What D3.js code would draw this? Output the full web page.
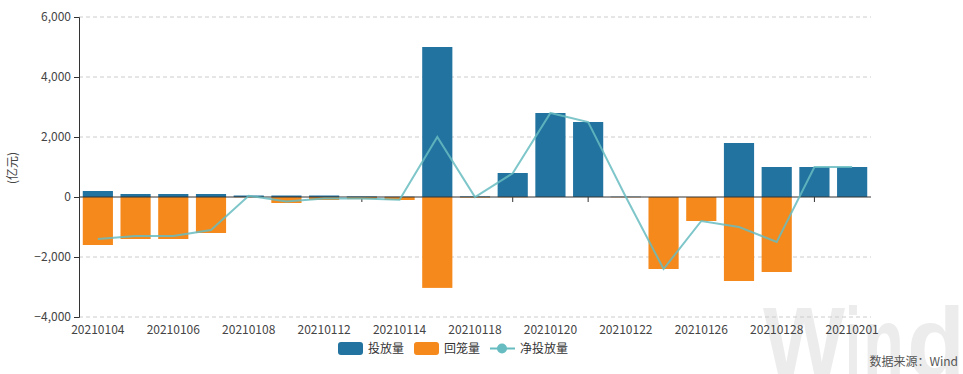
<!DOCTYPE html>
<html><head><meta charset="utf-8">
<script src="https://cdn.jsdelivr.net/npm/d3@7"></script>
<style>
html,body{margin:0;padding:0;background:#fff;}
svg{display:block;font-family:"Noto Sans CJK SC","Noto Sans",sans-serif;}
</style></head>
<body>
<svg id="c" width="963" height="374"></svg>
<script>
const categories = ["20210104","20210105","20210106","20210107","20210108","20210111","20210112","20210113","20210114","20210115","20210118","20210119","20210120","20210121","20210122","20210125","20210126","20210127","20210128","20210129","20210201"];
const injection = [200,100,100,100,50,50,50,20,10,5000,20,800,2800,2500,10,0,0,1800,1000,1000,1000];
const withdrawal = [-1600,-1400,-1400,-1200,-10,-200,-100,-70,-100,-3030,-20,-10,0,0,-10,-2400,-800,-2800,-2500,0,0];
const netInjection = [-1400,-1300,-1300,-1100,40,-150,-50,-50,-90,2000,0,790,2800,2500,0,-2400,-800,-1000,-1500,1000,1000];
const yTicks = [-4000,-2000,0,2000,4000,6000];
const seriesNames = ["投放量","回笼量","净投放量"];
const unitLabel = "(亿元)";
const sourceLabel = "数据来源：Wind";
const watermarkLetters = ["W","i","n","d"];

const colors = {blue:"#22739f", orange:"#f5891c", line:"#67bcc1"};
const svg = d3.select("#c");
const L = 79, R = 871, T = 17, B = 317;

const x = d3.scaleBand().domain(categories).range([L, R]).paddingInner(0.2).paddingOuter(0.1);
const y = d3.scaleLinear().domain([-4000, 6000]).range([B, T]);
const cx = d => x(d) + x.bandwidth()/2;

// watermark (letter-by-letter layout)
const wmPos = [[763, 82], [845, 16], [863, 41], [907, 58]];
svg.append("g").selectAll("text").data(watermarkLetters).join("text")
  .attr("x", (d,i) => wmPos[i][0]).attr("y", 376)
  .attr("textLength", (d,i) => wmPos[i][1]).attr("lengthAdjust", "spacingAndGlyphs")
  .attr("font-family","Liberation Sans, Arial, sans-serif").attr("font-weight","bold")
  .attr("font-size", 98).attr("fill","#ececec").text(d => d);

// grid
svg.append("g").selectAll("line").data(yTicks.filter(v => v !== 0)).join("line")
  .attr("x1", L).attr("x2", R).attr("y1", d => y(d)).attr("y2", d => y(d))
  .attr("stroke", "#cccccc").attr("stroke-dasharray", "4,3").attr("stroke-width", 1);

// x ticks (odd indices)
svg.append("g").selectAll("line").data(categories.filter((d,i) => i % 2 === 1)).join("line")
  .attr("x1", d => cx(d)).attr("x2", d => cx(d)).attr("y1", y(0)).attr("y2", y(0) + 5)
  .attr("stroke", "#333").attr("stroke-width", 1);

// bars
svg.append("g").selectAll("rect").data(categories).join("rect")
  .attr("x", d => x(d)).attr("width", x.bandwidth())
  .attr("y", (d,i) => y(Math.max(0, injection[i])))
  .attr("height", (d,i) => Math.abs(y(injection[i]) - y(0)))
  .attr("fill", colors.blue);
svg.append("g").selectAll("rect").data(categories).join("rect")
  .attr("x", d => x(d)).attr("width", x.bandwidth())
  .attr("y", (d,i) => y(Math.max(0, withdrawal[i])))
  .attr("height", (d,i) => Math.abs(y(withdrawal[i]) - y(0)))
  .attr("fill", colors.orange);

// axes
const yAxis = d3.axisLeft(y).tickValues(yTicks).tickSize(5).tickPadding(3).tickFormat(d3.format(","));
const gy = svg.append("g").attr("transform", `translate(${L},0)`).call(yAxis);
gy.select(".domain").attr("stroke", "#333");
gy.selectAll(".tick line").attr("stroke", "#333");
gy.selectAll("text").attr("font-size", 12).attr("fill", "#444")
  .attr("font-family","\"Noto Sans CJK SC\",sans-serif");

svg.append("line").attr("x1", L).attr("x2", R).attr("y1", y(0)).attr("y2", y(0))
  .attr("stroke", "#333").attr("stroke-width", 1);

// x labels
svg.append("g").selectAll("text").data(categories.filter((d,i) => i % 2 === 0)).join("text")
  .attr("x", d => cx(d)).attr("y", 334).attr("text-anchor", "middle")
  .attr("font-size", 12).attr("fill", "#444").text(d => d);

// line
svg.append("path").datum(netInjection)
  .attr("d", d3.line().x((d,i) => cx(categories[i])).y(d => y(d)))
  .attr("fill", "none").attr("stroke", colors.line).attr("stroke-width", 2).attr("stroke-opacity", 0.85);

// unit label
svg.append("text").attr("transform", "translate(17,168) rotate(-90)").attr("text-anchor", "middle")
  .attr("font-size", 12).attr("fill", "#444").text(unitLabel);

// legend
const lg = svg.append("g");
lg.append("rect").attr("x", 338).attr("y", 342).attr("width", 25).attr("height", 13).attr("rx", 3).attr("fill", colors.blue);
lg.append("text").attr("x", 368).attr("y", 353).attr("font-size", 12).attr("fill", "#333").text(seriesNames[0]);
lg.append("rect").attr("x", 414).attr("y", 342).attr("width", 25).attr("height", 13).attr("rx", 3).attr("fill", colors.orange);
lg.append("text").attr("x", 444).attr("y", 353).attr("font-size", 12).attr("fill", "#333").text(seriesNames[1]);
lg.append("line").attr("x1", 490).attr("x2", 515).attr("y1", 348.5).attr("y2", 348.5).attr("stroke", colors.line).attr("stroke-width", 2);
lg.append("circle").attr("cx", 502).attr("cy", 348.5).attr("r", 5).attr("fill", colors.line);
lg.append("text").attr("x", 520).attr("y", 353).attr("font-size", 12).attr("fill", "#333").text(seriesNames[2]);

// source
svg.append("text").attr("x", 958).attr("y", 366).attr("text-anchor", "end")
  .attr("font-size", 12).attr("fill", "#555").text(sourceLabel);
</script>
</body></html>
